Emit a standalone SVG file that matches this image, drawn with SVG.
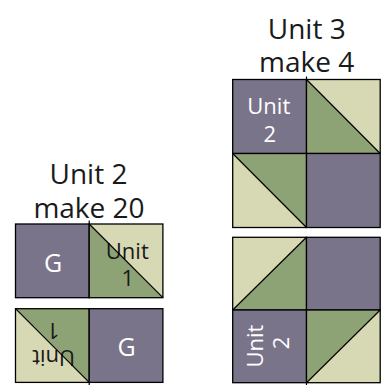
<svg xmlns="http://www.w3.org/2000/svg" width="384" height="385" viewBox="0 0 384 385">
<style>
.p{fill:#7a748a}
.l{fill:#d7d8b4}
.g{fill:#8ea375}
.sq{fill:none;stroke:#000;stroke-width:1.3}
.ln{stroke:#000;stroke-width:1.2;fill:none}
.t{font-family:"Open Sans","Noto Sans",sans-serif;text-anchor:middle}
.title{font-size:28px;fill:#1a1a1a}
.wl{font-size:22px;fill:#fff}
.bl{font-size:22px;fill:#1a1a1a}
.G{font-size:25px;fill:#fff}
</style>
<rect width="384" height="385" fill="#fff"/>

<g id="title-unit2">
<text class="t title" x="88.5" y="183.5">Unit 2</text>
<text class="t title" x="89" y="217.5">make 20</text>
</g>
<g id="title-unit3">
<text class="t title" x="306.7" y="38.5">Unit 3</text>
<text class="t title" x="306.7" y="72">make 4</text>
</g>

<!-- Unit 2 top row -->
<g id="u2-top-g">
<rect class="p" x="15.5" y="224" width="73.7" height="73.7"/>
<rect class="sq" x="15.5" y="224" width="73.7" height="73.7"/>
<text class="t G" x="53.2" y="271.7">G</text>
</g>
<g id="u2-top-unit1">
<polygon class="l" points="89.2,224 162.9,224 162.9,297.7"/>
<polygon class="g" points="89.2,224 89.2,297.7 162.9,297.7"/>
<text class="t bl" x="127.3" y="259.3">Unit</text>
<text class="t bl" x="127.7" y="285.7">1</text>
<line class="ln" x1="89.2" y1="224" x2="162.9" y2="297.7"/>
<rect class="sq" x="89.2" y="224" width="73.7" height="73.7"/>
</g>
<!-- Unit 2 bottom row -->
<g id="u2-bot-unit1">
<polygon class="g" points="15.5,308.7 89.2,308.7 89.2,382.4"/>
<polygon class="l" points="15.5,308.7 15.5,382.4 89.2,382.4"/>
<g transform="rotate(180 53.5 345)">
<text class="t bl" x="53.5" y="340">Unit</text>
<text class="t bl" x="53.7" y="366.7">1</text>
</g>
<line class="ln" x1="15.5" y1="308.7" x2="89.2" y2="382.4"/>
<rect class="sq" x="15.5" y="308.7" width="73.7" height="73.7"/>
</g>
<g id="u2-bot-g">
<rect class="p" x="89.2" y="308.7" width="73.7" height="73.7"/>
<rect class="sq" x="89.2" y="308.7" width="73.7" height="73.7"/>
<text class="t G" x="126.5" y="356.4">G</text>
</g>

<!-- Unit 3 top block -->
<g id="u3a-tl">
<rect class="p" x="232.7" y="79.5" width="73.8" height="74"/>
<rect class="sq" x="232.7" y="79.5" width="73.8" height="74"/>
<text class="t wl" x="268.8" y="114.3">Unit</text>
<text class="t wl" x="269.7" y="141.7">2</text>
</g>
<g id="u3a-tr">
<polygon class="l" points="306.5,79.5 380.2,79.5 380.2,153.5"/>
<polygon class="g" points="306.5,79.5 306.5,153.5 380.2,153.5"/>
<line class="ln" x1="306.5" y1="79.5" x2="380.2" y2="153.5"/>
<rect class="sq" x="306.5" y="79.5" width="73.7" height="74"/>
</g>
<g id="u3a-bl">
<polygon class="g" points="232.7,153.5 306.5,153.5 306.5,227.5"/>
<polygon class="l" points="232.7,153.5 232.7,227.5 306.5,227.5"/>
<line class="ln" x1="232.7" y1="153.5" x2="306.5" y2="227.5"/>
<rect class="sq" x="232.7" y="153.5" width="73.8" height="74"/>
</g>
<g id="u3a-br">
<rect class="p" x="306.5" y="153.5" width="73.7" height="74"/>
<rect class="sq" x="306.5" y="153.5" width="73.7" height="74"/>
</g>

<!-- Unit 3 bottom block -->
<g id="u3b-tl">
<polygon class="l" points="232.7,237.3 306.5,237.3 232.7,310"/>
<polygon class="g" points="306.5,237.3 306.5,310 232.7,310"/>
<line class="ln" x1="232.7" y1="310" x2="306.5" y2="237.3"/>
<rect class="sq" x="232.7" y="237.3" width="73.8" height="72.7"/>
</g>
<g id="u3b-tr">
<rect class="p" x="306.5" y="237.3" width="73.7" height="72.7"/>
<rect class="sq" x="306.5" y="237.3" width="73.7" height="72.7"/>
</g>
<g id="u3b-bl">
<rect class="p" x="232.7" y="310" width="73.8" height="72.7"/>
<rect class="sq" x="232.7" y="310" width="73.8" height="72.7"/>
<g transform="translate(263.3 346) rotate(-90)">
<text class="t wl" x="0" y="0">Unit</text>
<text class="t wl" x="3" y="26">2</text>
</g>
</g>
<g id="u3b-br">
<polygon class="g" points="306.5,310 380.2,310 306.5,382.7"/>
<polygon class="l" points="380.2,310 380.2,382.7 306.5,382.7"/>
<line class="ln" x1="306.5" y1="382.7" x2="380.2" y2="310"/>
<rect class="sq" x="306.5" y="310" width="73.7" height="72.7"/>
</g>

<g id="connectors">
<line class="ln" x1="89.2" y1="220.5" x2="89.2" y2="224"/>
<line class="ln" x1="89.2" y1="382.4" x2="89.2" y2="385"/>
<line class="ln" x1="306.5" y1="76.5" x2="306.5" y2="79.5"/>
<line class="ln" x1="306.5" y1="382.7" x2="306.5" y2="385"/>
</g>
</svg>
